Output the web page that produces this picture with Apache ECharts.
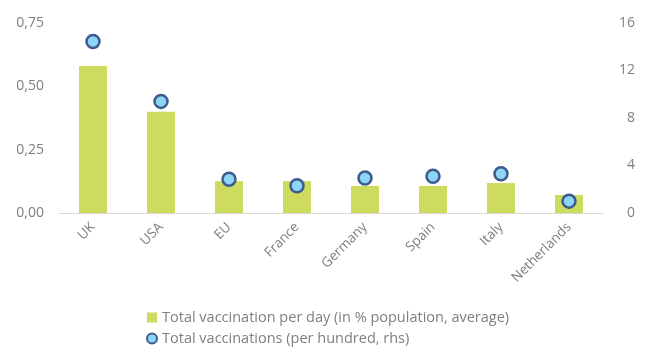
<!DOCTYPE html>
<html>
<head>
<meta charset="utf-8">
<script src="https://cdn.jsdelivr.net/npm/echarts@6/dist/echarts.min.js"></script>
<style>
    html, body {margin: 0; padding: 0; background: #fff;}
    #chart {width: 650px; height: 352px;}
</style>
</head>
<body>
<div id="chart"></div>
<script>
// 数据
let countries = ["UK", "USA", "EU", "France", "Germany", "Spain", "Italy", "Netherlands"];
let perDay = [0.58, 0.40, 0.126, 0.126, 0.107, 0.107, 0.118, 0.071];
let perHundred = [14.45, 9.4, 2.85, 2.3, 2.95, 3.1, 3.3, 1.0];
let leftTicks = {min: 0, max: 0.75, interval: 0.25};
let rightTicks = {min: 0, max: 16, interval: 4};

buildChart();

function buildChart() {
    var dom = document.getElementById("chart");
    var myChart = echarts.init(dom);
    var font = "'Open Sans', 'Liberation Sans', sans-serif";
    var option = {
        animation: false,
        grid: {left: 59, right: 47, top: 23, bottom: 139},
        legend: {
            orient: 'vertical',
            left: 141,
            top: 305,
            itemGap: 6,
            itemWidth: 10,
            itemHeight: 10,
            textStyle: {color: '#7f7f7f', fontSize: 14.5, fontFamily: font},
            data: [
                {name: 'Total vaccination per day (in % population, average)', icon: 'rect'},
                {name: 'Total vaccinations (per hundred, rhs)', icon: 'circle'}
            ]
        },
        xAxis: {
            type: 'category',
            data: countries,
            axisLine: {lineStyle: {color: '#d9d9d9', width: 1}},
            axisTick: {show: false},
            axisLabel: {
                rotate: 45,
                color: '#7f7f7f',
                fontSize: 13.5,
                fontFamily: font,
                margin: 12,
                interval: 0
            }
        },
        yAxis: [
            {
                type: 'value',
                min: leftTicks.min,
                max: leftTicks.max,
                interval: leftTicks.interval,
                splitLine: {show: false},
                axisLine: {show: false},
                axisTick: {show: false},
                axisLabel: {
                    color: '#7f7f7f',
                    fontSize: 14,
                    fontFamily: font,
                    margin: 15,
                    formatter: function (v) {
                        return v.toFixed(2).replace('.', ',');
                    }
                }
            },
            {
                type: 'value',
                min: rightTicks.min,
                max: rightTicks.max,
                interval: rightTicks.interval,
                splitLine: {show: false},
                axisLine: {show: false},
                axisTick: {show: false},
                axisLabel: {
                    color: '#7f7f7f',
                    fontSize: 14,
                    fontFamily: font,
                    margin: 32,
                    align: 'right'
                }
            }
        ],
        series: [
            {
                name: 'Total vaccination per day (in % population, average)',
                type: 'bar',
                data: perDay,
                barWidth: 28,
                itemStyle: {color: '#cddc5f'}
            },
            {
                name: 'Total vaccinations (per hundred, rhs)',
                type: 'scatter',
                yAxisIndex: 1,
                data: perHundred,
                symbolSize: 13,
                itemStyle: {color: '#8dd4f6', borderColor: '#3d5b8c', borderWidth: 2.5, opacity: 1}
            }
        ]
    };
    myChart.setOption(option);
}
</script>
</body>
</html>
